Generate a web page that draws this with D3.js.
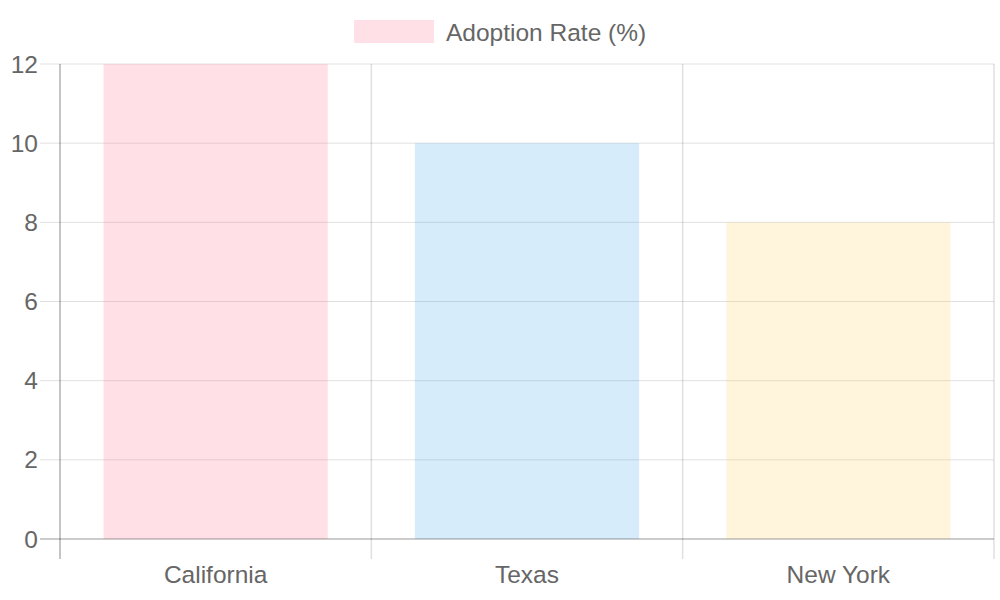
<!DOCTYPE html>
<html>
<head>
<meta charset="utf-8">
<script src="https://cdn.jsdelivr.net/npm/d3@7"></script>
<style>
  body { margin: 0; background: #fff; }
  svg text { font-family: "Liberation Sans", "Arimo", Arial, sans-serif; fill: #666; }
</style>
</head>
<body>
<div id="chart"></div>
<script>
// data
const states = ["California", "Texas", "New York"];
const adoption = [12, 10, 8];
const yTicks = [0, 2, 4, 6, 8, 10, 12];
const seriesName = "Adoption Rate (%)";
const barColors = ["rgba(255,99,132,0.2)", "rgba(54,162,235,0.2)", "rgba(255,206,86,0.2)"];

const width = 1000, height = 600;
const margin = {top: 64, right: 6, bottom: 61, left: 60};
const fontSize = "24.5px";

const svg = d3.select("#chart").append("svg")
    .attr("width", width)
    .attr("height", height);

const x = d3.scaleBand()
    .domain(states)
    .range([margin.left, width - margin.right])
    .paddingInner(0)
    .paddingOuter(0);

const y = d3.scaleLinear()
    .domain([0, 12])
    .range([height - margin.bottom, margin.top]);

// horizontal grid + y tick marks
svg.append("g")
  .selectAll("line")
  .data(yTicks)
  .join("line")
    .attr("x1", margin.left - 20)
    .attr("x2", width - margin.right)
    .attr("y1", d => y(d))
    .attr("y2", d => y(d))
    .attr("stroke", "rgba(0,0,0,0.12)")
    .attr("stroke-width", 1);

// vertical grid (category boundaries)
const xEdges = states.map(s => x(s)).concat([x.range()[1]]);
svg.append("g")
  .selectAll("line")
  .data(xEdges)
  .join("line")
    .attr("x1", d => d)
    .attr("x2", d => d)
    .attr("y1", margin.top)
    .attr("y2", height - margin.bottom + 20)
    .attr("stroke", "rgba(0,0,0,0.12)")
    .attr("stroke-width", 1.5);

// bars
const barW = x.bandwidth() * 0.72;
svg.append("g")
  .selectAll("rect")
  .data(states)
  .join("rect")
    .attr("x", d => x(d) + (x.bandwidth() - barW) / 2)
    .attr("y", (d, i) => y(adoption[i]))
    .attr("width", barW)
    .attr("height", (d, i) => y(0) - y(adoption[i]))
    .attr("fill", (d, i) => barColors[i]);

// axis lines
svg.append("line")
    .attr("x1", margin.left).attr("x2", margin.left)
    .attr("y1", margin.top).attr("y2", height - margin.bottom + 20)
    .attr("stroke", "rgba(0,0,0,0.3)");
svg.append("line")
    .attr("x1", margin.left - 20).attr("x2", width - margin.right)
    .attr("y1", y(0)).attr("y2", y(0))
    .attr("stroke", "rgba(0,0,0,0.3)");

// y labels
svg.append("g")
  .selectAll("text")
  .data(yTicks)
  .join("text")
    .attr("x", margin.left - 22)
    .attr("y", d => y(d))
    .attr("dy", "0.35em")
    .attr("text-anchor", "end")
    .style("font-size", fontSize)
    .text(d => d);

// x labels
svg.append("g")
  .selectAll("text")
  .data(states)
  .join("text")
    .attr("x", d => x(d) + x.bandwidth() / 2)
    .attr("y", height - margin.bottom + 35)
    .attr("dy", "0.35em")
    .attr("text-anchor", "middle")
    .style("font-size", fontSize)
    .text(d => d);

// legend
const legend = svg.append("g");
legend.append("rect")
    .attr("x", 354).attr("y", 20)
    .attr("width", 80).attr("height", 23)
    .attr("fill", barColors[0]);
legend.append("text")
    .attr("x", 446).attr("y", 32)
    .attr("dy", "0.35em")
    .style("font-size", fontSize)
    .text(seriesName);
</script>
</body>
</html>
